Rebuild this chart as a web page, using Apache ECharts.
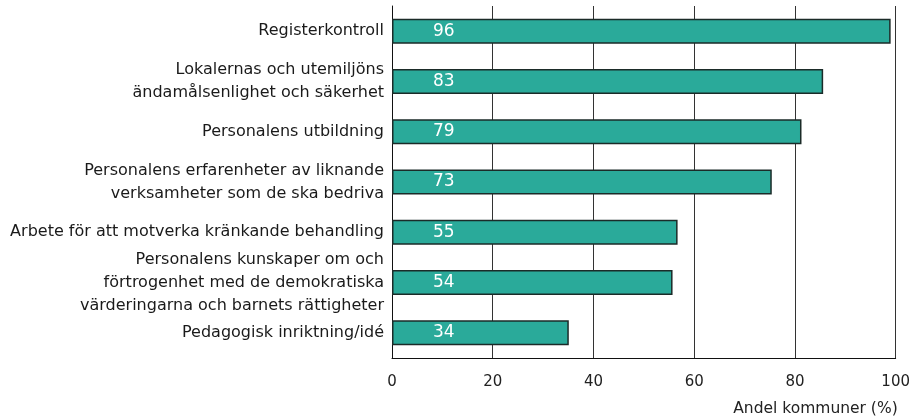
<!DOCTYPE html>
<html>
<head>
<meta charset="utf-8">
<script src="https://cdn.jsdelivr.net/npm/echarts@6/dist/echarts.min.js"></script>
<style>
html,body{margin:0;padding:0;background:#fff;}
#chart{width:913px;height:418px;}
</style>
</head>
<body>
<div id="chart"></div>
<script>
const categories = [
  "Registerkontroll",
  "Lokalernas och utemiljöns\nändamålsenlighet och säkerhet",
  "Personalens utbildning",
  "Personalens erfarenheter av liknande\nverksamheter som de ska bedriva",
  "Arbete för att motverka kränkande behandling",
  "Personalens kunskaper om och\nförtrogenhet med de demokratiska\nvärderingarna och barnets rättigheter",
  "Pedagogisk inriktning/idé"
];
const barValues = [99, 85.6, 81.3, 75.4, 56.7, 55.7, 35.1];
const labelValues = [96, 83, 79, 73, 55, 54, 34];
const xTicks = [0, 20, 40, 60, 80, 100];
const axisName = "Andel kommuner (%)";

const FONT = "DejaVu Sans";
const chart = echarts.init(document.getElementById('chart'), null, {renderer: 'canvas'});
chart.setOption({
  animation: false,
  backgroundColor: '#ffffff',
  grid: {left: 392, right: 17, top: 6, height: 352},
  xAxis: {
    type: 'value',
    min: xTicks[0],
    max: xTicks[xTicks.length - 1],
    interval: xTicks[1] - xTicks[0],
    axisLine: {show: true, lineStyle: {color: '#111', width: 1}},
    axisTick: {show: false},
    axisLabel: {color: '#222', fontFamily: FONT, fontSize: 15, margin: 17},
    splitLine: {show: true, lineStyle: {color: '#333', width: 1}},
    name: axisName,
    nameLocation: 'end',
    nameGap: 0,
    nameTextStyle: {color: '#222', fontFamily: FONT, fontSize: 15.5, align: 'right', verticalAlign: 'top', padding: [43, -2, 0, 0]}
  },
  yAxis: {
    type: 'category',
    inverse: true,
    data: categories,
    axisLine: {show: true, lineStyle: {color: '#111', width: 1}},
    axisTick: {show: false},
    axisLabel: {color: '#1a1a1a', fontFamily: FONT, fontSize: 16, lineHeight: 23, margin: 8, align: 'right'}
  },
  series: [{
    type: 'bar',
    data: barValues,
    barWidth: 25,
    itemStyle: {color: '#2aaa9a', borderColor: '#1b2b28', borderWidth: 1.5},
    label: {
      show: true,
      position: 'insideLeft',
      distance: 41,
      color: '#ffffff',
      fontFamily: FONT,
      fontSize: 17,
      formatter: p => String(labelValues[p.dataIndex])
    }
  }]
});
</script>
</body>
</html>
